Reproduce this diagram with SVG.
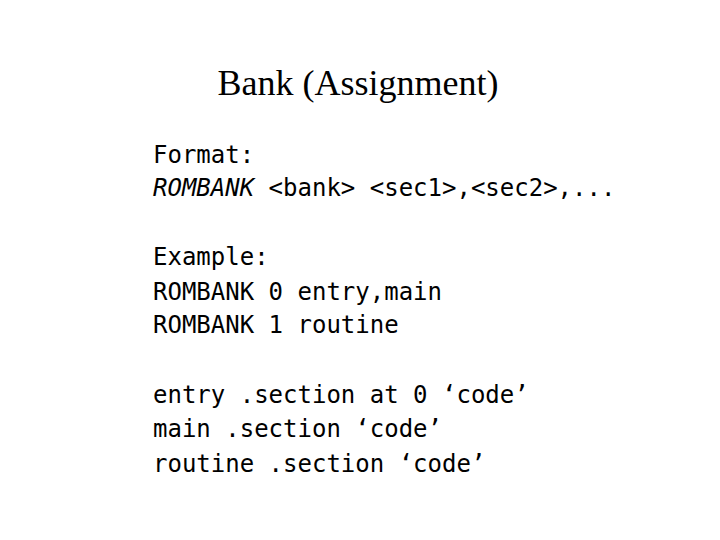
<svg xmlns="http://www.w3.org/2000/svg" width="720" height="540" viewBox="0 0 720 540">
<style>
.t{font-family:"Liberation Serif",serif;font-size:36px;fill:#000}
.m{font-family:"DejaVu Sans Mono",monospace;font-size:24px;fill:#000;white-space:pre}
</style>
<rect width="720" height="540" fill="#fff"/>
<text class="t" x="358" y="95" text-anchor="middle">Bank (Assignment)</text>
<g id="body">
<text class="m" x="153" y="163">Format:</text>
<text class="m" x="153" y="196" xml:space="preserve"><tspan font-style="italic">ROMBANK</tspan> &lt;bank&gt; &lt;sec1&gt;,&lt;sec2&gt;,...</text>
<text class="m" x="153" y="265">Example:</text>
<text class="m" x="153" y="300" xml:space="preserve">ROMBANK 0 entry,main</text>
<text class="m" x="153" y="333" xml:space="preserve">ROMBANK 1 routine</text>
<text class="m" x="153" y="403" xml:space="preserve">entry .section at 0 ‘code’</text>
<text class="m" x="153" y="437" xml:space="preserve">main .section ‘code’</text>
<text class="m" x="153" y="472" xml:space="preserve">routine .section ‘code’</text>
</g>
</svg>
